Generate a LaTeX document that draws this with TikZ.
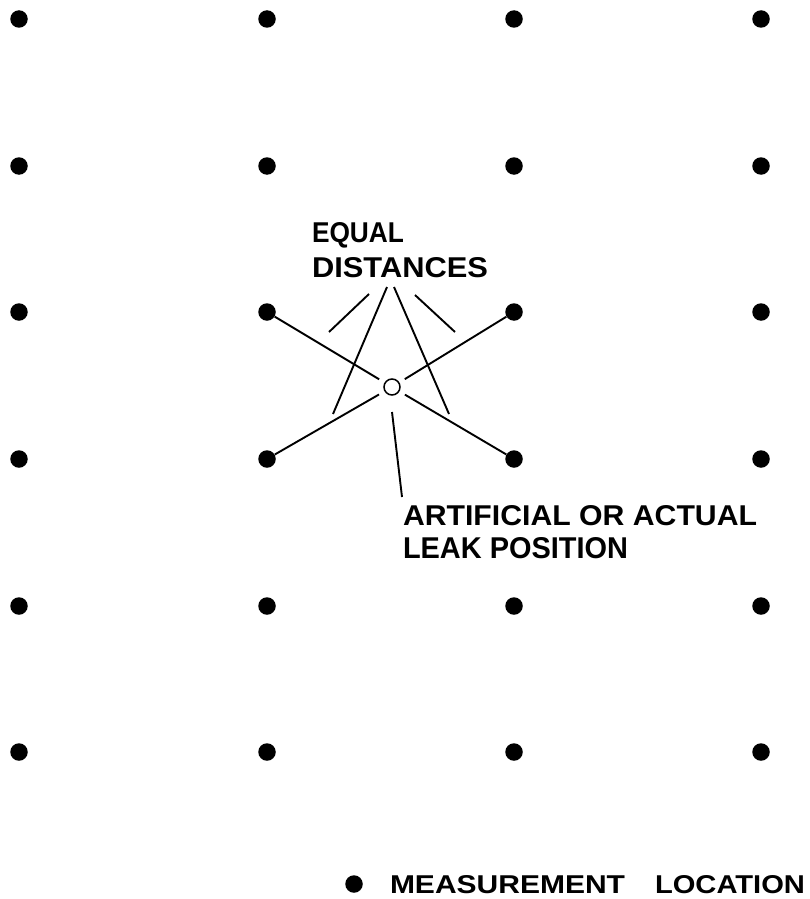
\documentclass[tikz,border=0pt]{standalone}
\usepackage{fontspec}
\setmainfont{Liberation Sans}
\usetikzlibrary{calc}
% set one line of caps to a given width and cap height (in pt)
\newcommand{\fitline}[3]{\resizebox{#1pt}{#2pt}{\bfseries #3}}

\begin{document}
\begin{tikzpicture}[x=1pt,y=-1pt,
  site/.style={circle,fill=black,inner sep=0pt,minimum size=17.5pt},
  leakmark/.style={circle,draw=black,line width=1.5pt,fill=white,inner sep=0pt,minimum size=16pt},
  link/.style={line width=1.9pt},
  lbl/.style={anchor=base west,inner sep=0pt,outer sep=0pt}]
\useasboundingbox (0,0) rectangle (809,899);

% grid of measurement locations
\foreach \c/\x in {1/19,2/267,3/514,4/761}
  \foreach \r/\y in {1/19,2/166,3/312,4/459,5/606,6/752}
    \node[site] (d\r\c) at (\x,\y) {};

% leak position and the four equal distances
\node[leakmark] (leak) at (392,387) {};
\foreach \n in {d32,d33,d42,d43}
  \draw[link] (\n) -- ($(leak)!15pt!(\n)$);

% labels
\node[lbl] (eq1) at (312,242) {\fitline{92}{20}{EQUAL}};
\node[lbl] (eq2) at (312,277) {\fitline{176}{20}{DISTANCES}};
\node[lbl] (lp1) at (403,525) {\fitline{354}{20}{ARTIFICIAL OR ACTUAL}};
\node[lbl] (lp2) at (403,558) {\fitline{225}{21}{LEAK POSITION}};

% leader lines
\coordinate (e1a) at (369,294); \coordinate (e1b) at (329,332);
\coordinate (e2a) at (387,287); \coordinate (e2b) at (333,414);
\coordinate (e3a) at (394,287); \coordinate (e3b) at (449,414);
\coordinate (e4a) at (415,295); \coordinate (e4b) at (455,332);
\foreach \i in {1,2,3,4}
  \draw[link] (e\i a) -- (e\i b);
\coordinate (lka) at (392,412); \coordinate (lkb) at (402,497);
\draw[link] (lka) -- (lkb);

% legend
\node[site] (key) at (354,884) {};
\node[lbl] (m1) at (390,893) {\fitline{235}{18}{MEASUREMENT}};
\node[lbl] (m2) at (655,893) {\fitline{150}{18}{LOCATION}};
\end{tikzpicture}
\end{document}
